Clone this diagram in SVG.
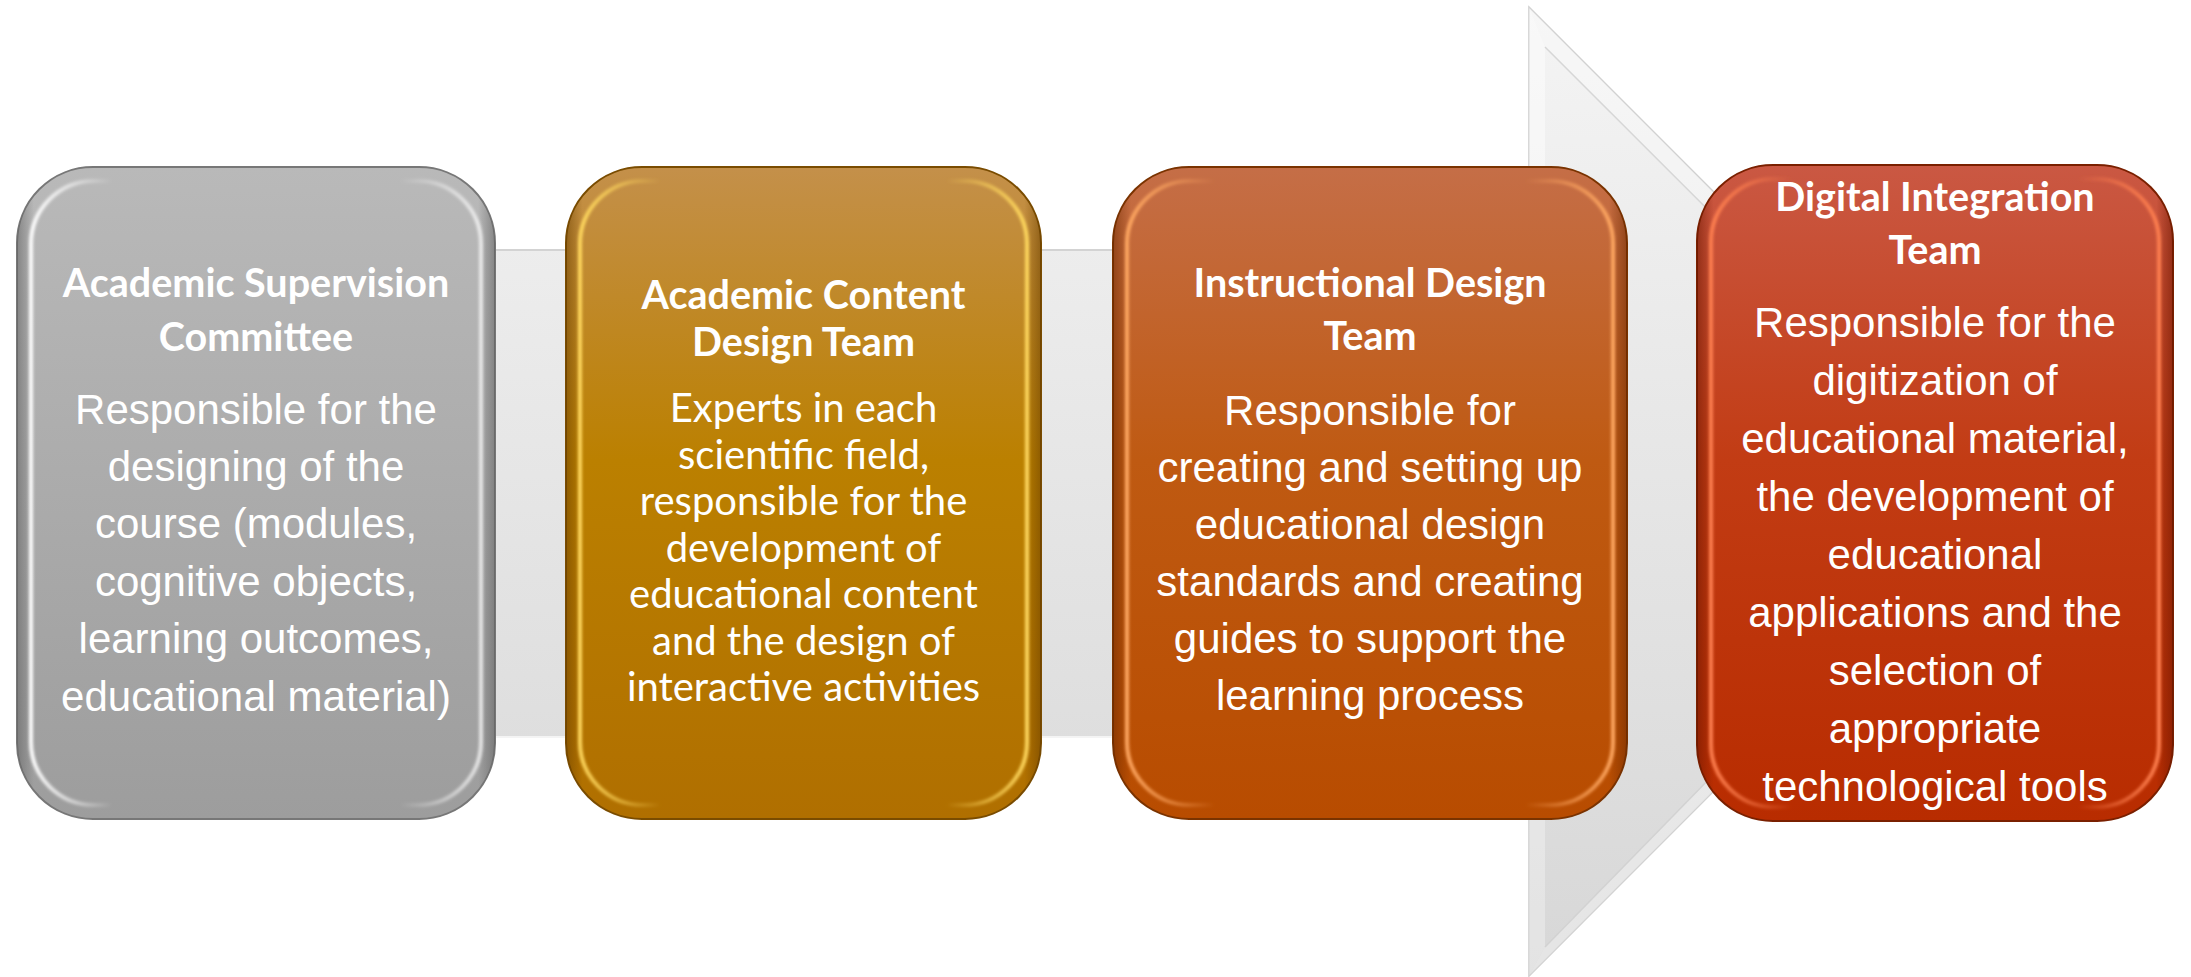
<svg xmlns="http://www.w3.org/2000/svg" width="2191" height="977" viewBox="0 0 2191 977">
  <defs>
    <style>
      .title { font-family: "Lato", "Open Sans", sans-serif; font-weight: 700; font-size: 39.5px; fill: #ffffff; text-anchor: middle; }
      .body-arial { font-family: "Liberation Sans", Arial, sans-serif; font-size: 42px; fill: #ffffff; text-anchor: middle; }
      .body-cal { font-family: "Lato", "Open Sans", sans-serif; font-size: 40px; fill: #ffffff; text-anchor: middle; }
      .glow { fill: none; stroke-width: 4; filter: url(#soft); }
    </style>
    <filter id="soft" x="-5%" y="-5%" width="110%" height="110%">
      <feGaussianBlur stdDeviation="1.5"/>
    </filter>

    <!-- process arrow shading -->
    <linearGradient id="arrowFill" x1="0" y1="7" x2="0" y2="976" gradientUnits="userSpaceOnUse">
      <stop offset="0" stop-color="#f4f4f4"/>
      <stop offset="1" stop-color="#d7d7d7"/>
    </linearGradient>

    <!-- per-node face gradients -->
    <linearGradient id="face1" x1="0" y1="0" x2="0" y2="1">
      <stop offset="0" stop-color="#b9b9b9"/>
      <stop offset="1" stop-color="#9d9d9d"/>
    </linearGradient>
    <linearGradient id="face2" x1="0" y1="0" x2="0" y2="1">
      <stop offset="0" stop-color="#c4904a"/>
      <stop offset="0.45" stop-color="#bb8000"/>
      <stop offset="1" stop-color="#b06f00"/>
    </linearGradient>
    <linearGradient id="face3" x1="0" y1="0" x2="0" y2="1">
      <stop offset="0" stop-color="#c56e47"/>
      <stop offset="0.45" stop-color="#bf5a12"/>
      <stop offset="1" stop-color="#b84c00"/>
    </linearGradient>
    <linearGradient id="face4" x1="0" y1="0" x2="0" y2="1">
      <stop offset="0" stop-color="#ca5843"/>
      <stop offset="0.45" stop-color="#c23c14"/>
      <stop offset="1" stop-color="#b82c00"/>
    </linearGradient>

    <!-- darker outer wall on the left and right sides -->
    <linearGradient id="wall1" x1="0" y1="0" x2="1" y2="0">
      <stop offset="0" stop-color="#5e5e5e" stop-opacity="0.55"/>
      <stop offset="0.035" stop-color="#5e5e5e" stop-opacity="0"/>
      <stop offset="0.965" stop-color="#5e5e5e" stop-opacity="0"/>
      <stop offset="1" stop-color="#5e5e5e" stop-opacity="0.55"/>
    </linearGradient>
    <linearGradient id="wall2" x1="0" y1="0" x2="1" y2="0">
      <stop offset="0" stop-color="#6a3f00" stop-opacity="0.55"/>
      <stop offset="0.035" stop-color="#6a3f00" stop-opacity="0"/>
      <stop offset="0.965" stop-color="#6a3f00" stop-opacity="0"/>
      <stop offset="1" stop-color="#6a3f00" stop-opacity="0.55"/>
    </linearGradient>
    <linearGradient id="wall3" x1="0" y1="0" x2="1" y2="0">
      <stop offset="0" stop-color="#6a2800" stop-opacity="0.55"/>
      <stop offset="0.035" stop-color="#6a2800" stop-opacity="0"/>
      <stop offset="0.965" stop-color="#6a2800" stop-opacity="0"/>
      <stop offset="1" stop-color="#6a2800" stop-opacity="0.55"/>
    </linearGradient>
    <linearGradient id="wall4" x1="0" y1="0" x2="1" y2="0">
      <stop offset="0" stop-color="#6a1500" stop-opacity="0.55"/>
      <stop offset="0.035" stop-color="#6a1500" stop-opacity="0"/>
      <stop offset="0.965" stop-color="#6a1500" stop-opacity="0"/>
      <stop offset="1" stop-color="#6a1500" stop-opacity="0.55"/>
    </linearGradient>

    <!-- bevel highlight, strongest on the side walls -->
    <linearGradient id="hl1" x1="0" y1="0" x2="1" y2="0">
      <stop offset="0" stop-color="#ffffff" stop-opacity="1"/>
      <stop offset="0.1" stop-color="#ffffff" stop-opacity="0.5"/>
      <stop offset="0.18" stop-color="#ffffff" stop-opacity="0"/>
      <stop offset="0.82" stop-color="#ffffff" stop-opacity="0"/>
      <stop offset="0.9" stop-color="#ffffff" stop-opacity="0.35"/>
      <stop offset="1" stop-color="#ffffff" stop-opacity="0.75"/>
    </linearGradient>
    <linearGradient id="hl2" x1="0" y1="0" x2="1" y2="0">
      <stop offset="0" stop-color="#ffd85e" stop-opacity="1"/>
      <stop offset="0.1" stop-color="#ffd85e" stop-opacity="0.5"/>
      <stop offset="0.18" stop-color="#ffd85e" stop-opacity="0"/>
      <stop offset="0.82" stop-color="#ffd85e" stop-opacity="0"/>
      <stop offset="0.9" stop-color="#ffd85e" stop-opacity="0.5"/>
      <stop offset="1" stop-color="#ffd85e" stop-opacity="1"/>
    </linearGradient>
    <linearGradient id="hl3" x1="0" y1="0" x2="1" y2="0">
      <stop offset="0" stop-color="#ffa862" stop-opacity="1"/>
      <stop offset="0.1" stop-color="#ffa862" stop-opacity="0.5"/>
      <stop offset="0.18" stop-color="#ffa862" stop-opacity="0"/>
      <stop offset="0.82" stop-color="#ffa862" stop-opacity="0"/>
      <stop offset="0.9" stop-color="#ffa862" stop-opacity="0.5"/>
      <stop offset="1" stop-color="#ffa862" stop-opacity="1"/>
    </linearGradient>
    <linearGradient id="hl4" x1="0" y1="0" x2="1" y2="0">
      <stop offset="0" stop-color="#ff8050" stop-opacity="1"/>
      <stop offset="0.1" stop-color="#ff8050" stop-opacity="0.5"/>
      <stop offset="0.18" stop-color="#ff8050" stop-opacity="0"/>
      <stop offset="0.82" stop-color="#ff8050" stop-opacity="0"/>
      <stop offset="0.9" stop-color="#ff8050" stop-opacity="0.5"/>
      <stop offset="1" stop-color="#ff8050" stop-opacity="1"/>
    </linearGradient>
  </defs>

  <rect width="2191" height="977" fill="#ffffff"/>

  <!-- block arrow running behind the four stages -->
  <g id="connectors">
    <path d="M60,250 H1529 V7 L2013,491.5 L1529,976 V737 H60 Z" fill="url(#arrowFill)" stroke="#cbcbcb" stroke-width="1.5"/>
    <!-- bevel facets of the arrow head -->
    <path d="M1529,7 L1545,47 L1545,250 L1529,250 Z" fill="#ffffff" opacity="0.45"/>
    <path d="M1529,7 L2013,491.5 L1990,491.5 L1545,47 Z" fill="#ffffff" opacity="0.3"/>
    <path d="M1545,47 L1990,491.5" stroke="#d6d6d6" stroke-width="1.5" fill="none"/>
    <path d="M1529,976 L1545,947 L1545,737 L1529,737 Z" fill="#ffffff" opacity="0.3"/>
    <path d="M1529,976 L2013,491.5 L1990,491.5 L1545,947 Z" fill="#ffffff" opacity="0.35"/>
    <path d="M1545,947 L1990,491.5" stroke="#d2d2d2" stroke-width="1.5" fill="none"/>
    <path d="M60,250 H1529" stroke="#d3d3d3" stroke-width="2" fill="none"/>
    <path d="M60,737 H1529" stroke="#f4f4f4" stroke-width="2" fill="none"/>
  </g>

  <!-- stage 1 -->
  <g id="academic-supervision-committee">
    <rect x="17" y="167" width="478" height="652" rx="76" fill="url(#face1)" stroke="#777777" stroke-width="2"/>
    <rect x="17" y="167" width="478" height="652" rx="76" fill="url(#wall1)"/>
    <rect x="31" y="181" width="450" height="624" rx="63" class="glow" stroke="url(#hl1)"/>
    <text class="title" x="256" y="297">Academic Supervision</text>
    <text class="title" x="256" y="351">Committee</text>
    <text class="body-arial" x="256" y="424">Responsible for the</text>
    <text class="body-arial" x="256" y="481">designing of the</text>
    <text class="body-arial" x="256" y="538">course (modules,</text>
    <text class="body-arial" x="256" y="596">cognitive objects,</text>
    <text class="body-arial" x="256" y="653">learning outcomes,</text>
    <text class="body-arial" x="256" y="711">educational material)</text>
  </g>

  <!-- stage 2 -->
  <g id="academic-content-design-team">
    <rect x="566" y="167" width="475" height="652" rx="76" fill="url(#face2)" stroke="#7a4c00" stroke-width="2"/>
    <rect x="566" y="167" width="475" height="652" rx="76" fill="url(#wall2)"/>
    <rect x="580" y="181" width="447" height="624" rx="63" class="glow" stroke="url(#hl2)"/>
    <text class="title" x="803.5" y="309">Academic Content</text>
    <text class="title" x="803.5" y="356">Design Team</text>
    <text class="body-cal" x="803.5" y="422">Experts in each</text>
    <text class="body-cal" x="803.5" y="468.5">scientific field,</text>
    <text class="body-cal" x="803.5" y="515">responsible for the</text>
    <text class="body-cal" x="803.5" y="561.5">development of</text>
    <text class="body-cal" x="803.5" y="608">educational content</text>
    <text class="body-cal" x="803.5" y="654.5">and the design of</text>
    <text class="body-cal" x="803.5" y="701">interactive activities</text>
  </g>

  <!-- stage 3 -->
  <g id="instructional-design-team">
    <rect x="1113" y="167" width="514" height="652" rx="76" fill="url(#face3)" stroke="#7a3300" stroke-width="2"/>
    <rect x="1113" y="167" width="514" height="652" rx="76" fill="url(#wall3)"/>
    <rect x="1127" y="181" width="486" height="624" rx="63" class="glow" stroke="url(#hl3)"/>
    <text class="title" x="1370" y="297">Instructional Design</text>
    <text class="title" x="1370" y="350">Team</text>
    <text class="body-arial" x="1370" y="425">Responsible for</text>
    <text class="body-arial" x="1370" y="482">creating and setting up</text>
    <text class="body-arial" x="1370" y="539">educational design</text>
    <text class="body-arial" x="1370" y="596">standards and creating</text>
    <text class="body-arial" x="1370" y="653">guides to support the</text>
    <text class="body-arial" x="1370" y="710">learning process</text>
  </g>

  <!-- stage 4 -->
  <g id="digital-integration-team">
    <rect x="1697" y="165" width="476" height="656" rx="76" fill="url(#face4)" stroke="#7a2000" stroke-width="2"/>
    <rect x="1697" y="165" width="476" height="656" rx="76" fill="url(#wall4)"/>
    <rect x="1711" y="179" width="448" height="628" rx="63" class="glow" stroke="url(#hl4)"/>
    <text class="title" x="1935" y="211">Digital Integration</text>
    <text class="title" x="1935" y="264">Team</text>
    <text class="body-arial" x="1935" y="337">Responsible for the</text>
    <text class="body-arial" x="1935" y="395">digitization of</text>
    <text class="body-arial" x="1935" y="453">educational material,</text>
    <text class="body-arial" x="1935" y="511">the development of</text>
    <text class="body-arial" x="1935" y="569">educational</text>
    <text class="body-arial" x="1935" y="627">applications and the</text>
    <text class="body-arial" x="1935" y="685">selection of</text>
    <text class="body-arial" x="1935" y="743">appropriate</text>
    <text class="body-arial" x="1935" y="801">technological tools</text>
  </g>
</svg>
